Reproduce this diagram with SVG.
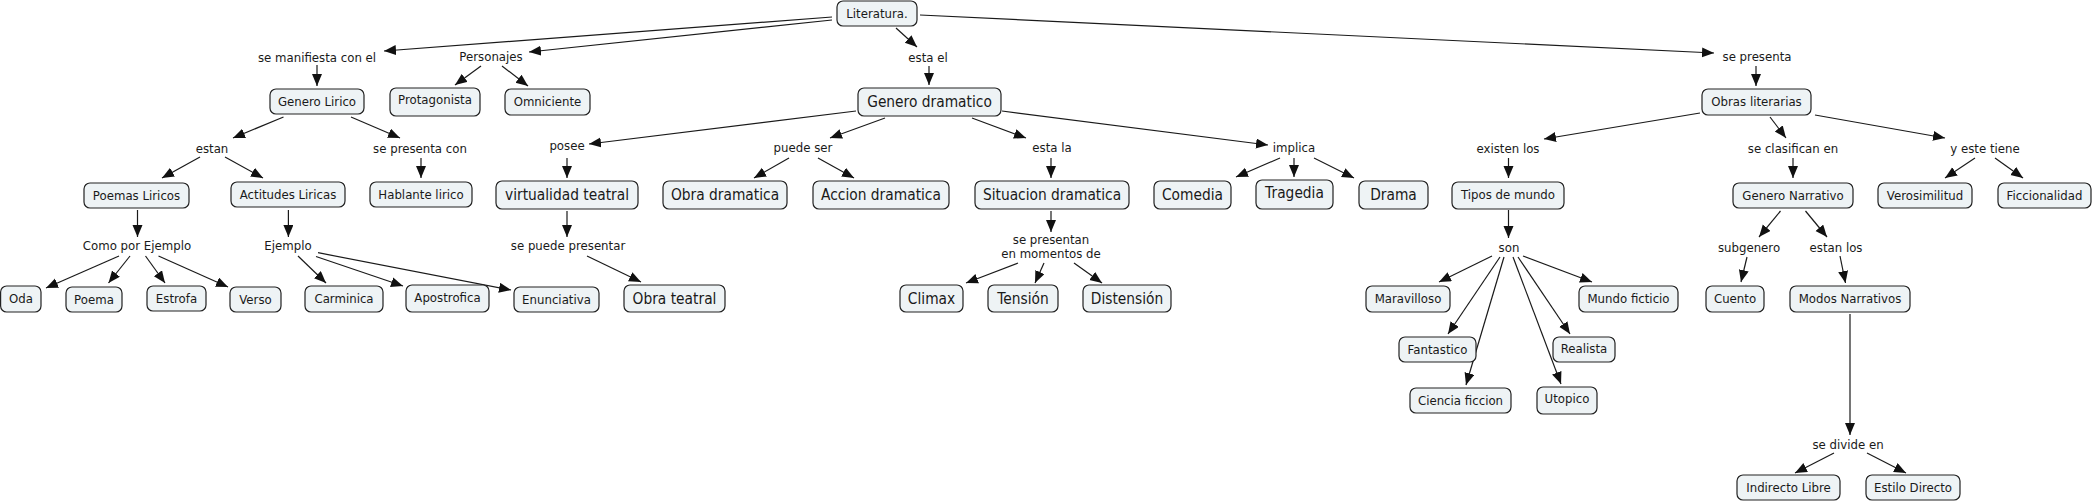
<svg xmlns="http://www.w3.org/2000/svg" width="2092" height="503" viewBox="0 0 2092 503">
<style>
.bg{fill:#ffffff}
.n rect{fill:#eef3f5;stroke:#222;stroke-width:1.2}
text{font-family:"DejaVu Sans","Liberation Sans",sans-serif;fill:#1a1a1a;text-anchor:middle}
.s{font-size:12.8px}
.l{font-size:15px}
.c line{stroke:#1a1a1a;stroke-width:1.2;marker-end:url(#ah)}
</style>
<defs>
<marker id="ah" markerUnits="userSpaceOnUse" markerWidth="13" markerHeight="11" refX="12" refY="5" orient="auto">
<path d="M0,0 L12,5 L0,10 z" fill="#111"/>
</marker>
</defs>
<rect class="bg" x="0" y="0" width="2092" height="503"/>
<g id="connectors" class="c">
<line x1="832" y1="17" x2="384" y2="51"/>
<line x1="832" y1="20" x2="529" y2="52"/>
<line x1="896" y1="28" x2="917" y2="47"/>
<line x1="920" y1="15" x2="1714" y2="53"/>
<line x1="317" y1="65" x2="317" y2="86"/>
<line x1="481" y1="66" x2="455" y2="85"/>
<line x1="502" y1="66" x2="528" y2="86"/>
<line x1="929" y1="66" x2="929" y2="85"/>
<line x1="1756" y1="66" x2="1756" y2="86"/>
<line x1="283.5" y1="117" x2="233" y2="138"/>
<line x1="351" y1="117" x2="400" y2="138"/>
<line x1="856" y1="111" x2="589" y2="144"/>
<line x1="885" y1="118" x2="830" y2="138"/>
<line x1="972" y1="118" x2="1026" y2="138"/>
<line x1="1002" y1="111" x2="1268" y2="145"/>
<line x1="1700" y1="113" x2="1544" y2="139"/>
<line x1="1770" y1="117" x2="1786" y2="138"/>
<line x1="1815" y1="115" x2="1945" y2="138"/>
<line x1="200" y1="157" x2="162" y2="178"/>
<line x1="225" y1="157" x2="263" y2="178"/>
<line x1="421" y1="158" x2="421" y2="178"/>
<line x1="567" y1="158" x2="567" y2="178"/>
<line x1="789" y1="158" x2="754" y2="178"/>
<line x1="818" y1="158" x2="854" y2="178"/>
<line x1="1051" y1="158" x2="1051" y2="178"/>
<line x1="1280" y1="158" x2="1236" y2="177"/>
<line x1="1294" y1="158" x2="1294" y2="177"/>
<line x1="1314" y1="158" x2="1354" y2="178"/>
<line x1="1508.5" y1="158" x2="1508.5" y2="178"/>
<line x1="1793" y1="158" x2="1793" y2="178"/>
<line x1="1975" y1="158" x2="1945" y2="178"/>
<line x1="1995" y1="158" x2="2023" y2="178"/>
<line x1="137.5" y1="210" x2="137.5" y2="237"/>
<line x1="288.4" y1="210" x2="288.4" y2="237"/>
<line x1="567" y1="211" x2="567" y2="237"/>
<line x1="1051" y1="211" x2="1051" y2="232"/>
<line x1="1508.5" y1="210" x2="1508.5" y2="238"/>
<line x1="1780.5" y1="211" x2="1759" y2="237"/>
<line x1="1805.5" y1="211" x2="1827" y2="237"/>
<line x1="119" y1="256" x2="46" y2="288"/>
<line x1="130" y1="256" x2="108.5" y2="283"/>
<line x1="145.5" y1="256" x2="165" y2="283"/>
<line x1="158.5" y1="256" x2="228" y2="287"/>
<line x1="298" y1="256" x2="326" y2="283"/>
<line x1="316" y1="256.5" x2="403" y2="286"/>
<line x1="318" y1="252.7" x2="511" y2="290"/>
<line x1="587" y1="256" x2="641" y2="282"/>
<line x1="1018" y1="263" x2="966" y2="283"/>
<line x1="1044" y1="263" x2="1035" y2="283"/>
<line x1="1074" y1="263" x2="1102" y2="283"/>
<line x1="1492" y1="256" x2="1439" y2="282"/>
<line x1="1523" y1="256" x2="1592" y2="282"/>
<line x1="1500" y1="257" x2="1448" y2="334"/>
<line x1="1504" y1="257" x2="1466" y2="385"/>
<line x1="1513" y1="257" x2="1561" y2="384"/>
<line x1="1518" y1="257" x2="1570" y2="334"/>
<line x1="1747" y1="257" x2="1741" y2="282"/>
<line x1="1840" y1="256" x2="1845.5" y2="283"/>
<line x1="1850" y1="314" x2="1850" y2="435"/>
<line x1="1834" y1="453" x2="1795" y2="473"/>
<line x1="1867" y1="453" x2="1906" y2="473"/>
</g>
<g id="lp-manifiesta"><text class="s" transform="translate(317 61.9) scale(.92 1)">se manifiesta con el</text></g>
<g id="lp-personajes"><text class="s" transform="translate(491 60.9) scale(.92 1)">Personajes</text></g>
<g id="lp-estael"><text class="s" transform="translate(928 61.9) scale(.92 1)">esta el</text></g>
<g id="lp-sepresenta"><text class="s" transform="translate(1757 61.4) scale(.92 1)">se presenta</text></g>
<g id="lp-estan"><text class="s" transform="translate(212 152.9) scale(.92 1)">estan</text></g>
<g id="lp-sepresentacon"><text class="s" transform="translate(420 152.9) scale(.92 1)">se presenta con</text></g>
<g id="lp-posee"><text class="s" transform="translate(567 150.4) scale(.92 1)">posee</text></g>
<g id="lp-puedeser"><text class="s" transform="translate(803 152.4) scale(.92 1)">puede ser</text></g>
<g id="lp-estala"><text class="s" transform="translate(1052 152.4) scale(.92 1)">esta la</text></g>
<g id="lp-implica"><text class="s" transform="translate(1294 152.4) scale(.92 1)">implica</text></g>
<g id="lp-existen"><text class="s" transform="translate(1508 152.9) scale(.92 1)">existen los</text></g>
<g id="lp-clasifican"><text class="s" transform="translate(1793 152.9) scale(.92 1)">se clasifican en</text></g>
<g id="lp-estetiene"><text class="s" transform="translate(1985 152.9) scale(.92 1)">y este tiene</text></g>
<g id="lp-como"><text class="s" transform="translate(137 250.4) scale(.92 1)">Como por Ejemplo</text></g>
<g id="lp-ejemplo"><text class="s" transform="translate(288 250.4) scale(.92 1)">Ejemplo</text></g>
<g id="lp-puedepresentar"><text class="s" transform="translate(568 250.4) scale(.92 1)">se puede presentar</text></g>
<g id="lp-momentos"><text class="s" transform="translate(1051 244.4) scale(.92 1)">se presentan</text><text class="s" transform="translate(1051 258.4) scale(.92 1)">en momentos de</text></g>
<g id="lp-son"><text class="s" transform="translate(1509 251.9) scale(.92 1)">son</text></g>
<g id="lp-subgenero"><text class="s" transform="translate(1749 251.9) scale(.92 1)">subgenero</text></g>
<g id="lp-estanlos"><text class="s" transform="translate(1836 251.9) scale(.92 1)">estan los</text></g>
<g id="lp-divide"><text class="s" transform="translate(1848 449.4) scale(.92 1)">se divide en</text></g>
<g id="n-literatura" class="n"><rect x="837" y="1" width="80" height="25" rx="6"/><text class="s" transform="translate(877 18.1) scale(.92 1)">Literatura.</text></g>
<g id="n-generolirico" class="n"><rect x="270" y="89" width="94" height="25" rx="6"/><text class="s" transform="translate(317 106.1) scale(.92 1)">Genero Lirico</text></g>
<g id="n-protagonista" class="n"><rect x="390" y="88" width="90" height="28" rx="6"/><text class="s" transform="translate(435 104.4) scale(.92 1)">Protagonista</text></g>
<g id="n-omniciente" class="n"><rect x="505" y="89" width="85" height="26" rx="6"/><text class="s" transform="translate(547.5 106.4) scale(.92 1)">Omniciente</text></g>
<g id="n-poemas" class="n"><rect x="84" y="183" width="105" height="25" rx="6"/><text class="s" transform="translate(136.5 200.1) scale(.92 1)">Poemas Liricos</text></g>
<g id="n-actitudes" class="n"><rect x="231" y="182" width="114" height="25" rx="6"/><text class="s" transform="translate(288 198.9) scale(.92 1)">Actitudes Liricas</text></g>
<g id="n-hablante" class="n"><rect x="370" y="182" width="102" height="25" rx="6"/><text class="s" transform="translate(421 198.9) scale(.92 1)">Hablante lirico</text></g>
<g id="n-virtualidad" class="n"><rect x="496" y="181" width="142" height="28" rx="6"/><text class="l" transform="translate(567 200.4) scale(.92 1)">virtualidad teatral</text></g>
<g id="n-oda" class="n"><rect x="0.6" y="286" width="40.4" height="26" rx="6"/><text class="s" transform="translate(21 303.4) scale(.92 1)">Oda</text></g>
<g id="n-poema" class="n"><rect x="66" y="287" width="56" height="25" rx="6"/><text class="s" transform="translate(94 304.1) scale(.92 1)">Poema</text></g>
<g id="n-estrofa" class="n"><rect x="147" y="286" width="59" height="25" rx="6"/><text class="s" transform="translate(176.5 302.9) scale(.92 1)">Estrofa</text></g>
<g id="n-verso" class="n"><rect x="230" y="287" width="51" height="25" rx="6"/><text class="s" transform="translate(255.5 304.1) scale(.92 1)">Verso</text></g>
<g id="n-carminica" class="n"><rect x="305" y="286" width="78" height="26" rx="6"/><text class="s" transform="translate(344 303.4) scale(.92 1)">Carminica</text></g>
<g id="n-apostrofica" class="n"><rect x="406" y="285" width="83" height="27" rx="6"/><text class="s" transform="translate(447.5 302.4) scale(.92 1)">Apostrofica</text></g>
<g id="n-enunciativa" class="n"><rect x="514" y="287" width="85" height="25" rx="6"/><text class="s" transform="translate(556.5 304.1) scale(.92 1)">Enunciativa</text></g>
<g id="n-obrateatral" class="n"><rect x="624" y="285" width="101" height="27" rx="6"/><text class="l" transform="translate(674.5 303.9) scale(.92 1)">Obra teatral</text></g>
<g id="n-generodramatico" class="n"><rect x="858" y="88" width="143" height="28" rx="6"/><text class="l" transform="translate(929.5 107.4) scale(.92 1)">Genero dramatico</text></g>
<g id="n-obradramatica" class="n"><rect x="663" y="181" width="124" height="28" rx="6"/><text class="l" transform="translate(725 200.4) scale(.92 1)">Obra dramatica</text></g>
<g id="n-accion" class="n"><rect x="813" y="181" width="136" height="28" rx="6"/><text class="l" transform="translate(881 200.4) scale(.92 1)">Accion dramatica</text></g>
<g id="n-situacion" class="n"><rect x="975" y="181" width="154" height="28" rx="6"/><text class="l" transform="translate(1052 200.4) scale(.92 1)">Situacion dramatica</text></g>
<g id="n-comedia" class="n"><rect x="1154" y="181" width="77" height="28" rx="6"/><text class="l" transform="translate(1192.5 200.4) scale(.92 1)">Comedia</text></g>
<g id="n-tragedia" class="n"><rect x="1256" y="180" width="77" height="29" rx="6"/><text class="l" transform="translate(1294.5 198.4) scale(.92 1)">Tragedia</text></g>
<g id="n-drama" class="n"><rect x="1359" y="181" width="69" height="28" rx="6"/><text class="l" transform="translate(1393.5 200.4) scale(.92 1)">Drama</text></g>
<g id="n-climax" class="n"><rect x="900" y="285" width="63" height="27" rx="6"/><text class="l" transform="translate(931.5 303.9) scale(.92 1)">Climax</text></g>
<g id="n-tension" class="n"><rect x="988" y="285" width="70" height="27" rx="6"/><text class="l" transform="translate(1023 303.9) scale(.92 1)">Tensión</text></g>
<g id="n-distension" class="n"><rect x="1083" y="285" width="88" height="27" rx="6"/><text class="l" transform="translate(1127 303.9) scale(.92 1)">Distensión</text></g>
<g id="n-obras" class="n"><rect x="1702" y="89" width="109" height="26" rx="6"/><text class="s" transform="translate(1756.5 106.4) scale(.92 1)">Obras literarias</text></g>
<g id="n-tipos" class="n"><rect x="1452" y="182" width="112" height="27" rx="6"/><text class="s" transform="translate(1508 198.9) scale(.92 1)">Tipos de mundo</text></g>
<g id="n-generonarrativo" class="n"><rect x="1733" y="183" width="120" height="25" rx="6"/><text class="s" transform="translate(1793 200.1) scale(.92 1)">Genero Narrativo</text></g>
<g id="n-verosimilitud" class="n"><rect x="1878" y="183" width="94" height="25" rx="6"/><text class="s" transform="translate(1925 200.1) scale(.92 1)">Verosimilitud</text></g>
<g id="n-ficcionalidad" class="n"><rect x="1998" y="183" width="93" height="25" rx="6"/><text class="s" transform="translate(2044.5 200.1) scale(.92 1)">Ficcionalidad</text></g>
<g id="n-maravilloso" class="n"><rect x="1366" y="286" width="84" height="26" rx="6"/><text class="s" transform="translate(1408 303.4) scale(.92 1)">Maravilloso</text></g>
<g id="n-mundoficticio" class="n"><rect x="1579" y="286" width="99" height="26" rx="6"/><text class="s" transform="translate(1628.5 303.4) scale(.92 1)">Mundo ficticio</text></g>
<g id="n-cuento" class="n"><rect x="1706" y="286" width="58" height="26" rx="6"/><text class="s" transform="translate(1735 303.4) scale(.92 1)">Cuento</text></g>
<g id="n-modos" class="n"><rect x="1790" y="286" width="120" height="26" rx="6"/><text class="s" transform="translate(1850 303.4) scale(.92 1)">Modos Narrativos</text></g>
<g id="n-fantastico" class="n"><rect x="1399" y="337" width="77" height="25" rx="6"/><text class="s" transform="translate(1437.5 354.1) scale(.92 1)">Fantastico</text></g>
<g id="n-realista" class="n"><rect x="1553" y="337" width="62" height="25" rx="6"/><text class="s" transform="translate(1584 352.9) scale(.92 1)">Realista</text></g>
<g id="n-ciencia" class="n"><rect x="1410" y="388" width="101" height="25" rx="6"/><text class="s" transform="translate(1460.5 405.1) scale(.92 1)">Ciencia ficcion</text></g>
<g id="n-utopico" class="n"><rect x="1537" y="387" width="60" height="27" rx="6"/><text class="s" transform="translate(1567 403.4) scale(.92 1)">Utopico</text></g>
<g id="n-indirecto" class="n"><rect x="1737" y="475" width="103" height="25" rx="6"/><text class="s" transform="translate(1788.5 492.1) scale(.92 1)">Indirecto Libre</text></g>
<g id="n-estilo" class="n"><rect x="1866" y="475" width="94" height="25" rx="6"/><text class="s" transform="translate(1913 492.1) scale(.92 1)">Estilo Directo</text></g>
</svg>
